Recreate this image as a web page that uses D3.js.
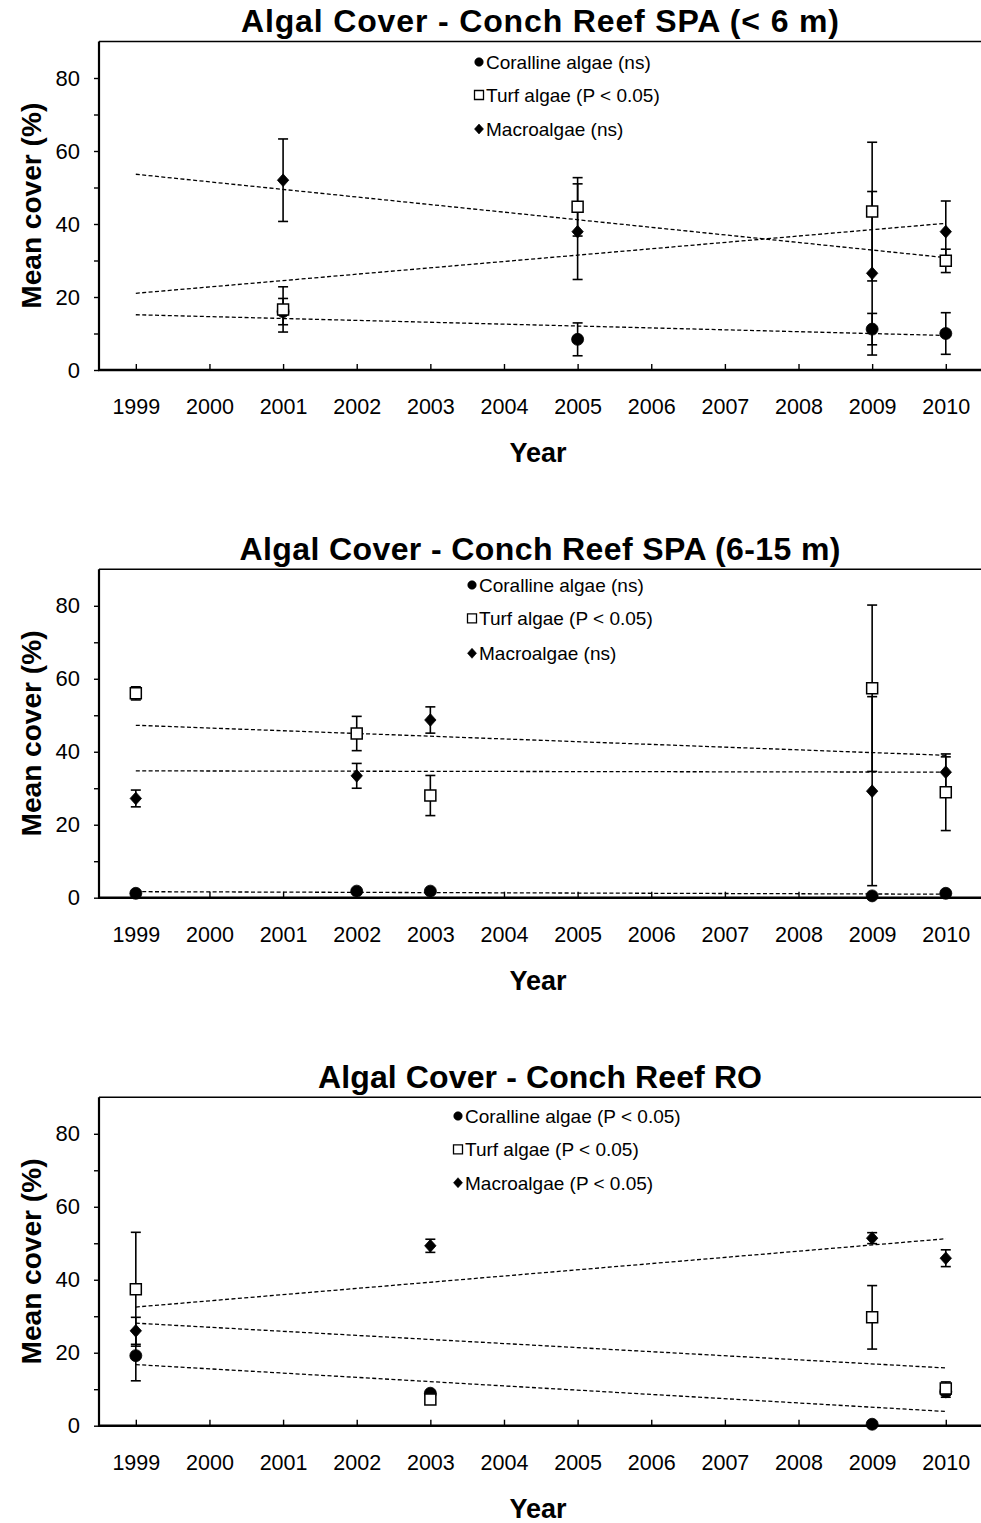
<!DOCTYPE html>
<html>
<head>
<meta charset="utf-8">
<script src="https://cdn.jsdelivr.net/npm/d3@7"></script>
<style>
  body { margin: 0; background: #fff; }
  svg { display: block; }
  text { font-family: "Liberation Sans", Arial, sans-serif; fill: #000; }
</style>
</head>
<body>
<svg id="chart" width="981" height="1523"></svg>
<script>
// ---- Axis ticks ----
const yearTicks = [1999, 2000, 2001, 2002, 2003, 2004, 2005, 2006, 2007, 2008, 2009, 2010];
const coverTicks = [0, 10, 20, 30, 40, 50, 60, 70, 80];
const coverLabels = [0, 20, 40, 60, 80];

// ---- Titles and legend text ----
const titles = [
  "Algal Cover - Conch Reef SPA (< 6 m)",
  "Algal Cover - Conch Reef SPA (6-15 m)",
  "Algal Cover - Conch Reef RO"
];
const groupNames = ["Coralline algae", "Turf algae", "Macroalgae"];
const shallowSignificance = ["(ns)", "(P < 0.05)", "(ns)"];
const midSignificance = ["(ns)", "(P < 0.05)", "(ns)"];
const roSignificance = ["(P < 0.05)", "(P < 0.05)", "(P < 0.05)"];

// ---- Conch Reef SPA (< 6 m): mean cover (%) and standard error ----
const shallowCorallineYears = [2001, 2005, 2009, 2010];
const shallowCorallineMean = [16.0, 8.4, 11.2, 10.0];
const shallowCorallineSE = [3.6, 4.5, 4.3, 5.7];
const shallowTurfYears = [2001, 2005, 2009, 2010];
const shallowTurfMean = [16.6, 44.7, 43.4, 29.9];
const shallowTurfSE = [6.2, 8.0, 19.0, 3.2];
const shallowMacroYears = [2001, 2005, 2009, 2010];
const shallowMacroMean = [52.0, 37.9, 26.5, 37.9];
const shallowMacroSE = [11.3, 13.1, 22.4, 8.4];

// ---- Conch Reef SPA (6-15 m) ----
const midCorallineYears = [1999, 2002, 2003, 2009, 2010];
const midCorallineMean = [1.2, 1.8, 1.8, 0.5, 1.2];
const midCorallineSE = [0.3, 0.4, 0.4, 0.2, 0.3];
const midTurfYears = [1999, 2002, 2003, 2009, 2010];
const midTurfMean = [56.0, 45.0, 28.0, 57.4, 28.9];
const midTurfSE = [1.8, 4.7, 5.5, 22.8, 10.5];
const midMacroYears = [1999, 2002, 2003, 2009, 2010];
const midMacroMean = [27.2, 33.4, 48.7, 29.2, 34.4];
const midMacroSE = [2.3, 3.4, 3.6, 25.9, 4.2];

// ---- Conch Reef RO ----
const roCorallineYears = [1999, 2003, 2009, 2010];
const roCorallineMean = [19.2, 8.9, 0.4, 9.3];
const roCorallineSE = [6.9, 0.5, 0.2, 1.5];
const roTurfYears = [1999, 2003, 2009, 2010];
const roTurfMean = [37.4, 7.2, 29.7, 10.2];
const roTurfSE = [15.6, 1.0, 8.7, 1.8];
const roMacroYears = [1999, 2003, 2009, 2010];
const roMacroMean = [26.0, 49.3, 51.4, 45.9];
const roMacroSE = [3.7, 1.8, 1.5, 2.3];

// ---- Assemble series per panel ----
function series(years, mean, se) {
  return years.map((y, i) => ({ year: y, mean: mean[i], se: se[i] }));
}
const panelData = [
  {
    title: titles[0], sig: shallowSignificance,
    groups: [
      series(shallowCorallineYears, shallowCorallineMean, shallowCorallineSE),
      series(shallowTurfYears, shallowTurfMean, shallowTurfSE),
      series(shallowMacroYears, shallowMacroMean, shallowMacroSE)
    ]
  },
  {
    title: titles[1], sig: midSignificance,
    groups: [
      series(midCorallineYears, midCorallineMean, midCorallineSE),
      series(midTurfYears, midTurfMean, midTurfSE),
      series(midMacroYears, midMacroMean, midMacroSE)
    ]
  },
  {
    title: titles[2], sig: roSignificance,
    groups: [
      series(roCorallineYears, roCorallineMean, roCorallineSE),
      series(roTurfYears, roTurfMean, roTurfSE),
      series(roMacroYears, roMacroMean, roMacroSE)
    ]
  }
];

// ---- Layout of the three stacked panels ----
const layout = [
  { top: 41.5, bottom: 370, titleY: 32, titleWidth: 598, legendX: 479, legendRows: [62, 95, 129] },
  { top: 569.3, bottom: 897.7, titleY: 560, titleWidth: 601, legendX: 472, legendRows: [585, 618.3, 653.3] },
  { top: 1097.3, bottom: 1425.7, titleY: 1088, titleWidth: 444, legendX: 458, legendRows: [1116, 1149.3, 1182.7] }
];
const plotLeft = 99, plotRight = 981;

// Custom diamond (square rotated 45 degrees, slightly taller than wide)
const diamondShape = {
  draw(ctx, size) {
    const h = Math.sqrt(size) / 2;
    const w = h * 0.9;
    ctx.moveTo(0, -h); ctx.lineTo(w, 0); ctx.lineTo(0, h); ctx.lineTo(-w, 0); ctx.closePath();
  }
};
const markerTypes = [d3.symbolCircle, d3.symbolSquare, diamondShape];
const markerSizes = [Math.PI * 36, 121, 160];
const legendSizes = [Math.PI * 18, 81, 100];
const markerFill = ["#000", "#fff", "#000"];
// draw order: coralline, macroalgae, turf (open squares on top)
const drawOrder = [0, 2, 1];

// Least-squares trend line
function fitLine(pts) {
  const mx = d3.mean(pts, d => d.year), my = d3.mean(pts, d => d.mean);
  let sxy = 0, sxx = 0;
  pts.forEach(d => { sxy += (d.year - mx) * (d.mean - my); sxx += (d.year - mx) ** 2; });
  const b = sxy / sxx;
  return x => my + b * (x - mx);
}

const svg = d3.select("#chart");
const x = d3.scaleLinear().domain([1998.5, 2010.5]).range([plotLeft, 982.6]);

panelData.forEach((panel, pi) => {
  const L = layout[pi];
  const y = d3.scaleLinear().domain([0, 90]).range([L.bottom, L.top]);
  const g = svg.append("g");

  // Title
  g.append("text")
    .attr("x", 540).attr("y", L.titleY)
    .attr("text-anchor", "middle")
    .attr("font-size", 32).attr("font-weight", "bold")
    .attr("textLength", L.titleWidth).attr("lengthAdjust", "spacing")
    .text(panel.title);

  // Top frame line
  g.append("line")
    .attr("x1", plotLeft).attr("x2", plotRight)
    .attr("y1", L.top).attr("y2", L.top)
    .attr("stroke", "#000").attr("stroke-width", 1.4);

  // Y axis
  const yAxis = g.append("g")
    .attr("transform", `translate(${plotLeft},0)`)
    .call(d3.axisLeft(y).tickValues(coverTicks).tickSize(5).tickPadding(14)
      .tickFormat(d => coverLabels.includes(d) ? d : ""));
  yAxis.select(".domain").attr("d", `M0,${L.top}V${L.bottom}`).attr("stroke-width", 2.2);
  yAxis.selectAll(".tick line").attr("stroke-width", 1.4);
  yAxis.selectAll(".tick text").attr("font-size", 22).attr("font-family", "Liberation Sans, Arial, sans-serif");

  // X axis
  const xAxis = g.append("g")
    .attr("transform", `translate(0,${L.bottom})`)
    .call(d3.axisBottom(x).tickValues(yearTicks).tickSizeInner(-6).tickSizeOuter(0).tickPadding(29)
      .tickFormat(d3.format("d")));
  xAxis.select(".domain").attr("d", `M${plotLeft - 1},0H${plotRight}`).attr("stroke-width", 2.4);
  xAxis.selectAll(".tick line").attr("stroke-width", 1.4);
  xAxis.selectAll(".tick text").attr("font-size", 21.5).attr("font-family", "Liberation Sans, Arial, sans-serif");

  // Axis titles
  g.append("text")
    .attr("x", 538).attr("y", L.bottom + 92)
    .attr("text-anchor", "middle")
    .attr("font-size", 27).attr("font-weight", "bold")
    .text("Year");
  g.append("text")
    .attr("transform", `translate(41,${(L.top + L.bottom) / 2}) rotate(-90)`)
    .attr("text-anchor", "middle")
    .attr("font-size", 27).attr("font-weight", "bold")
    .attr("textLength", 206).attr("lengthAdjust", "spacingAndGlyphs")
    .text("Mean cover (%)");

  // Trend lines from 1999 to 2010
  const x0 = yearTicks[0], x1 = yearTicks[yearTicks.length - 1];
  panel.groups.forEach(pts => {
    const f = fitLine(pts);
    g.append("line")
      .attr("x1", x(x0)).attr("y1", y(f(x0)))
      .attr("x2", x(x1)).attr("y2", y(f(x1)))
      .attr("stroke", "#000").attr("stroke-width", 1.3)
      .attr("stroke-dasharray", "4,2.4");
  });

  // Error bars
  panel.groups.forEach(pts => {
    const eb = g.append("g").selectAll("g").data(pts).join("g");
    eb.append("line")
      .attr("x1", d => x(d.year)).attr("x2", d => x(d.year))
      .attr("y1", d => y(d.mean - d.se)).attr("y2", d => y(d.mean + d.se))
      .attr("stroke", "#000").attr("stroke-width", 1.6);
    [-1, 1].forEach(s => {
      eb.append("line")
        .attr("x1", d => x(d.year) - 5).attr("x2", d => x(d.year) + 5)
        .attr("y1", d => y(d.mean + s * d.se)).attr("y2", d => y(d.mean + s * d.se))
        .attr("stroke", "#000").attr("stroke-width", 1.6);
    });
  });

  // Markers
  drawOrder.forEach(k => {
    g.append("g").selectAll("path").data(panel.groups[k]).join("path")
      .attr("transform", d => `translate(${x(d.year)},${y(d.mean)})`)
      .attr("d", d3.symbol().type(markerTypes[k]).size(markerSizes[k]))
      .attr("fill", markerFill[k])
      .attr("stroke", "#000").attr("stroke-width", k === 1 ? 1.5 : 0.8);
  });

  // Legend
  groupNames.forEach((name, k) => {
    const ly = L.legendRows[k];
    g.append("path")
      .attr("transform", `translate(${L.legendX},${ly})`)
      .attr("d", d3.symbol().type(markerTypes[k]).size(legendSizes[k]))
      .attr("fill", markerFill[k])
      .attr("stroke", "#000").attr("stroke-width", k === 1 ? 1.3 : 0.6);
    g.append("text")
      .attr("x", L.legendX + 7).attr("y", ly + 6.8)
      .attr("font-size", 19)
      .text(`${name} ${panel.sig[k]}`);
  });
});
</script>
</body>
</html>
